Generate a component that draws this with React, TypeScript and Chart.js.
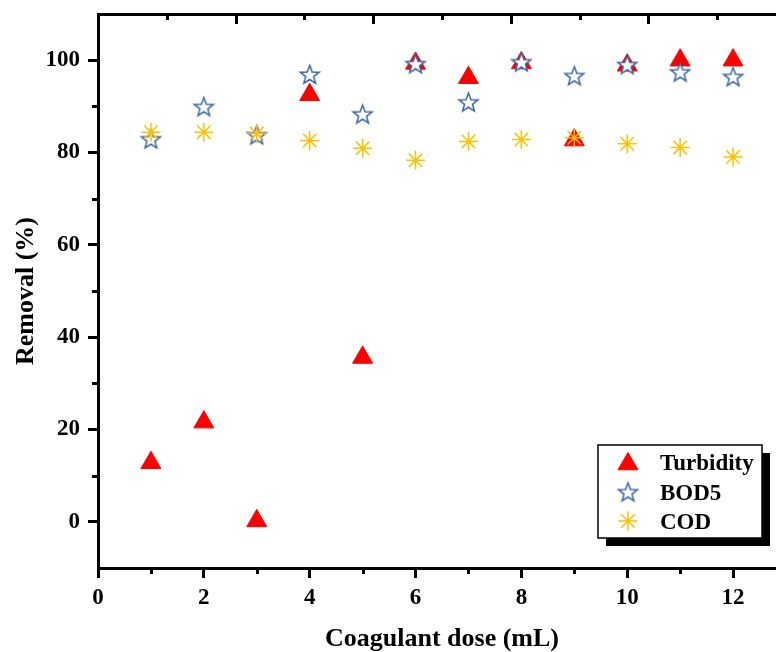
import React, { useEffect, useRef } from 'react';
import { Chart, registerables } from 'chart.js';

Chart.register(...registerables);

// ---- data ----
const DOSE = [1, 2, 3, 4, 5, 6, 7, 8, 9, 10, 11, 12];
const TURBIDITY = [12.8, 21.6, 0.2, 92.5, 35.6, 99.3, 96.2, 99.4, 82.7, 98.9, 100, 100];
const BOD5 = [82.9, 89.9, 83.8, 96.9, 88.3, 99.2, 90.9, 99.6, 96.6, 99.0, 97.4, 96.4];
const COD = [84.4, 84.4, 84.1, 82.6, 80.9, 78.3, 82.4, 82.8, 83.2, 81.9, 81.1, 79.0];

const SERIES_LABELS = ['Turbidity', 'BOD5', 'COD'];
const X_TICKS = [0, 2, 4, 6, 8, 10, 12];
const X_MINOR = [1, 3, 5, 7, 9, 11];
const Y_TICKS = [0, 20, 40, 60, 80, 100];
const Y_MINOR = [10, 30, 50, 70, 90];
const TOP_MAJOR = [1, 2, 3, 4];
const TOP_MINOR = [0.5, 1.5, 2.5, 3.5, 4.5];

const X_TITLE = 'Coagulant dose (mL)';
const Y_TITLE = 'Removal (%)';

const RED = '#FF0000';
const BLUE = '#3465A4';
const GOLD = '#FFC000';
const FAMILY = "'Liberation Serif', 'Times New Roman', serif";

function makeStar(color: string, R: number, r: number, lw: number) {
  const size = Math.ceil(2 * R + lw * 2 + 2);
  const c = document.createElement('canvas');
  c.width = size;
  c.height = size;
  const g = c.getContext('2d')!;
  g.beginPath();
  for (let i = 0; i < 10; i++) {
    const rad = i % 2 ? r : R;
    const a = -Math.PI / 2 + (i * Math.PI) / 5;
    const px = size / 2 + rad * Math.cos(a);
    const py = size / 2 + rad * Math.sin(a) + 0.8;
    if (i) g.lineTo(px, py);
    else g.moveTo(px, py);
  }
  g.closePath();
  g.fillStyle = '#fff';
  g.fill();
  g.lineWidth = lw;
  g.strokeStyle = color;
  g.stroke();
  return c;
}

export default function App() {
  const ref = useRef<HTMLCanvasElement>(null);

  useEffect(() => {
    const starImg = makeStar(BLUE, 10, 4.2, 1.5);
    const triR = 11.5;
    const astR = 9.5;

    const decor = {
      id: 'decor',
      afterDraw(chart: any) {
        const ctx = chart.ctx as CanvasRenderingContext2D;
        const { x, y, x2 } = chart.scales;
        const area = chart.chartArea;
        ctx.save();
        ctx.strokeStyle = '#000';
        ctx.lineWidth = 3;
        ctx.beginPath();
        // minor x ticks (outward)
        X_MINOR.forEach((v) => {
          const px = Math.round(x.getPixelForValue(v)) + 0.5;
          ctx.moveTo(px, area.bottom);
          ctx.lineTo(px, area.bottom + 6);
        });
        // minor y ticks (outward)
        Y_MINOR.forEach((v) => {
          const py = Math.round(y.getPixelForValue(v)) + 0.5;
          ctx.moveTo(area.left, py);
          ctx.lineTo(area.left - 6, py);
        });
        // top frame ticks (inward)
        TOP_MAJOR.forEach((v) => {
          const px = Math.round(x2.getPixelForValue(v)) + 0.5;
          ctx.moveTo(px, area.top);
          ctx.lineTo(px, area.top + 10);
        });
        TOP_MINOR.forEach((v) => {
          const px = Math.round(x2.getPixelForValue(v)) + 0.5;
          ctx.moveTo(px, area.top);
          ctx.lineTo(px, area.top + 6);
        });
        ctx.stroke();

        // legend
        const lx = 598, ly = 445, lw = 164, lh = 93;
        ctx.fillStyle = '#000';
        ctx.fillRect(lx + 8, ly + 8, lw, lh);
        ctx.fillStyle = '#fff';
        ctx.fillRect(lx, ly, lw, lh);
        ctx.lineWidth = 1.5;
        ctx.strokeStyle = '#000';
        ctx.strokeRect(lx, ly, lw, lh);

        const mx = 628;
        const rows = [462, 492, 521];
        // triangle
        {
          const cy = rows[0] + 2;
          ctx.beginPath();
          let rad = 0;
          for (let i = 0; i < 3; i++) {
            const px = mx + Math.sin(rad) * triR;
            const py = cy - Math.cos(rad) * triR;
            if (i) ctx.lineTo(px, py);
            else ctx.moveTo(px, py);
            rad += (2 * Math.PI) / 3;
          }
          ctx.closePath();
          ctx.fillStyle = RED;
          ctx.fill();
          ctx.lineWidth = 1;
          ctx.strokeStyle = RED;
          ctx.stroke();
        }
        // star
        ctx.drawImage(starImg, mx - starImg.width / 2, rows[1] - starImg.height / 2);
        // asterisk
        {
          const cy = rows[2];
          ctx.beginPath();
          ctx.strokeStyle = GOLD;
          ctx.lineWidth = 1.5;
          ctx.moveTo(mx - astR, cy);
          ctx.lineTo(mx + astR, cy);
          ctx.moveTo(mx, cy - astR);
          ctx.lineTo(mx, cy + astR);
          const d = astR * Math.SQRT1_2;
          ctx.moveTo(mx - d, cy - d);
          ctx.lineTo(mx + d, cy + d);
          ctx.moveTo(mx - d, cy + d);
          ctx.lineTo(mx + d, cy - d);
          ctx.stroke();
        }
        ctx.fillStyle = '#000';
        ctx.font = `bold 23px ${FAMILY}`;
        ctx.textAlign = 'left';
        ctx.textBaseline = 'alphabetic';
        SERIES_LABELS.forEach((t, i) => {
          ctx.fillText(t, 660, rows[i] + 8);
        });
        ctx.restore();
      },
    };

    const tickFont = { family: FAMILY, size: 23, weight: 'bold' as const };
    const titleFont = { family: FAMILY, size: 26, weight: 'bold' as const, lineHeight: 1 };

    const chart = new Chart(ref.current!, {
      type: 'scatter',
      data: {
        datasets: [
          {
            label: SERIES_LABELS[0],
            data: DOSE.map((d, i) => ({ x: d, y: TURBIDITY[i] })),
            pointStyle: 'triangle',
            pointRadius: triR,
            backgroundColor: RED,
            borderColor: RED,
            borderWidth: 1,
            order: 3,
          },
          {
            label: SERIES_LABELS[1],
            data: DOSE.map((d, i) => ({ x: d, y: BOD5[i] })),
            pointStyle: starImg as any,
            pointRadius: 10,
            order: 2,
          },
          {
            label: SERIES_LABELS[2],
            data: DOSE.map((d, i) => ({ x: d, y: COD[i] })),
            pointStyle: 'star',
            pointRadius: astR,
            borderColor: GOLD,
            backgroundColor: GOLD,
            borderWidth: 1.5,
            order: 1,
          },
        ],
      },
      options: {
        animation: false,
        responsive: false,
        maintainAspectRatio: false,
        layout: { padding: { left: 0, right: 14, top: 14, bottom: 0 } },
        plugins: { legend: { display: false }, tooltip: { enabled: false } },
        scales: {
          x: {
            type: 'linear',
            position: 'bottom',
            min: 0,
            max: 13,
            afterFit: (s: any) => {
              s.height = 84;
              s.paddingLeft = 0;
              s.paddingRight = 0;
            },
            afterBuildTicks: (s: any) => {
              s.ticks = X_TICKS.map((v) => ({ value: v }));
            },
            ticks: { font: tickFont, color: '#000', padding: 6, maxRotation: 0, autoSkip: false },
            grid: {
              drawOnChartArea: false,
              tickLength: 10,
              tickWidth: 3,
              tickColor: '#000',
              color: '#000',
            },
            border: { display: true, width: 3, color: '#000' },
            title: { display: true, text: X_TITLE, font: titleFont, color: '#000', padding: 0 },
          },
          y: {
            type: 'linear',
            position: 'left',
            min: -10,
            max: 110,
            afterFit: (s: any) => {
              s.width = 98;
              s.paddingTop = 0;
              s.paddingBottom = 0;
            },
            afterBuildTicks: (s: any) => {
              s.ticks = Y_TICKS.map((v) => ({ value: v }));
            },
            ticks: { font: tickFont, color: '#000', padding: 8, autoSkip: false },
            grid: {
              drawOnChartArea: false,
              tickLength: 10,
              tickWidth: 3,
              tickColor: '#000',
              color: '#000',
            },
            border: { display: true, width: 3, color: '#000' },
            title: {
              display: true,
              text: Y_TITLE,
              font: titleFont,
              color: '#000',
              padding: { top: 13, bottom: 0 },
            },
          },
          x2: {
            type: 'linear',
            position: 'top',
            min: 0,
            max: 5,
            afterFit: (s: any) => {
              s.height = 0;
              s.paddingLeft = 0;
              s.paddingRight = 0;
            },
            ticks: { display: false },
            grid: { display: false, drawTicks: false },
            border: { display: true, width: 3, color: '#000' },
          },
        },
      },
      plugins: [decor],
    });
    return () => chart.destroy();
  }, []);

  return (
    <div
      style={{
        position: 'fixed',
        left: 0,
        top: 0,
        width: 776,
        height: 652,
        overflow: 'hidden',
        background: '#fff',
      }}
    >
      <canvas ref={ref} width={800} height={652} style={{ display: 'block', width: 800, height: 652 }} />
    </div>
  );
}
